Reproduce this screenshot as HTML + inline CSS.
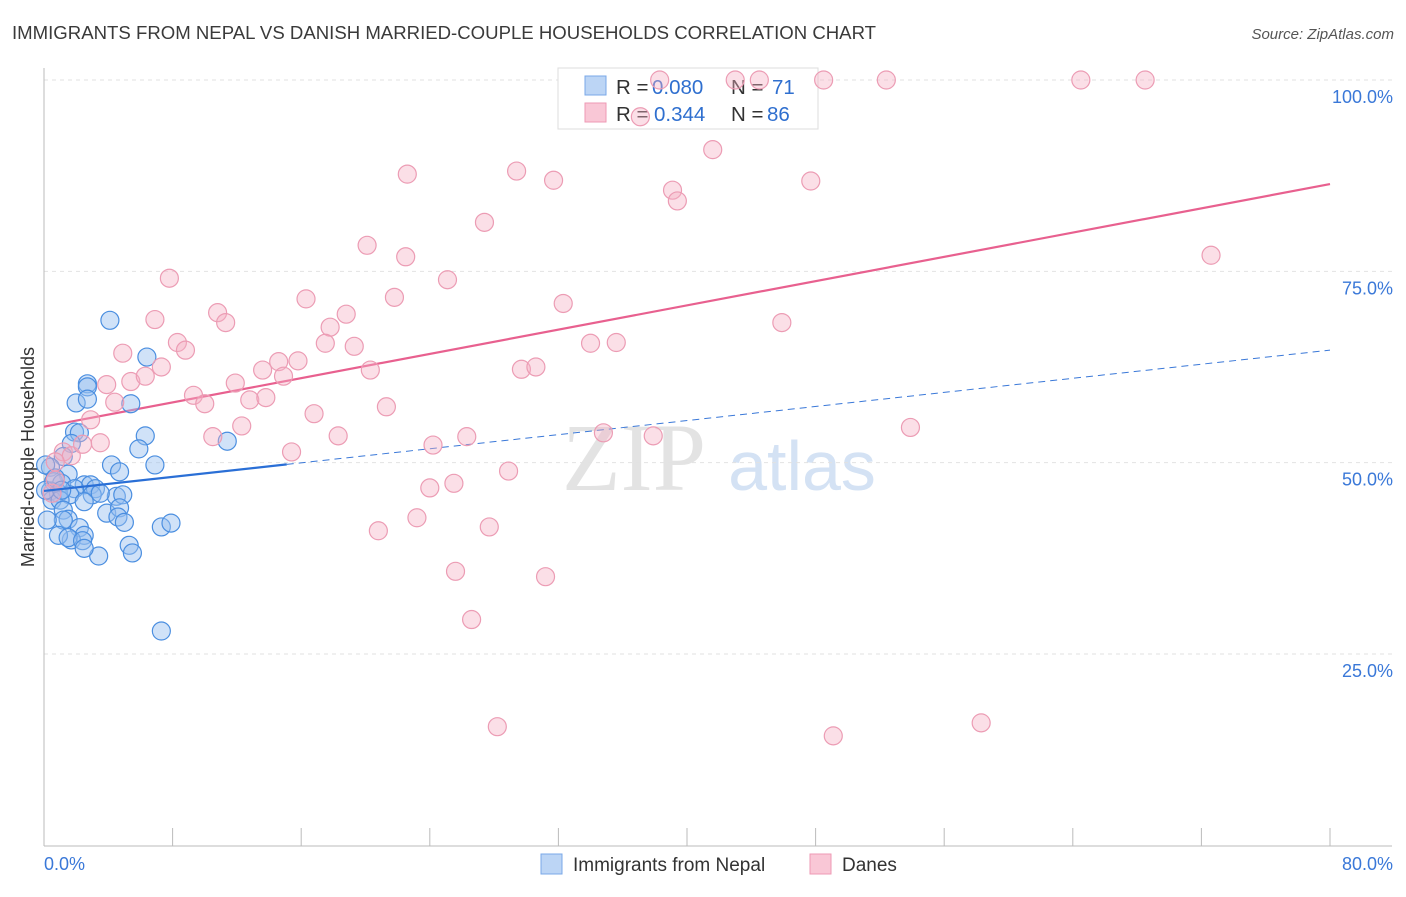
<!DOCTYPE html>
<html><head><meta charset="utf-8"><style>
body{margin:0;background:#fff;font-family:"Liberation Sans",sans-serif;}
</style></head><body>
<svg id="chart" width="1406" height="892" xmlns="http://www.w3.org/2000/svg" font-family="Liberation Sans, sans-serif">
<text x="12" y="39" font-size="18.6" fill="#3a3a3a">IMMIGRANTS FROM NEPAL VS DANISH MARRIED-COUPLE HOUSEHOLDS CORRELATION CHART</text>
<text x="1394" y="39" font-size="15" fill="#555" text-anchor="end" font-style="italic">Source: ZipAtlas.com</text>
<text transform="translate(34,457) rotate(-90)" font-size="18" fill="#333" text-anchor="middle">Married-couple Households</text>
<g>
<text x="634" y="490" font-size="96" font-family="Liberation Serif, serif" fill="#e3e3e3" text-anchor="middle">ZIP</text>
<text x="802" y="490" font-size="70" fill="#d4e2f4" text-anchor="middle">atlas</text>
</g>
<g id="grid"></g><g id="axes"></g><g id="trends"></g>
<g>
<rect x="558" y="68" width="260" height="61" fill="#fff" stroke="#ddd"/>
<rect x="585" y="76" width="21" height="19" fill="#bcd5f5" stroke="#7aa8e8"/>
<rect x="585" y="103" width="21" height="19" fill="#f9c7d6" stroke="#ee9ab4"/>
<g font-size="20.5" fill="#333">
<text x="616" y="94">R =</text><text x="652" y="94" fill="#2f6fcf">0.080</text><text x="731" y="94">N =</text><text x="772" y="94" fill="#2f6fcf">71</text>
</g>
<g font-size="20.5" fill="#333">
<text x="616" y="121">R =</text><text x="654" y="121" fill="#2f6fcf">0.344</text><text x="731" y="121">N =</text><text x="767" y="121" fill="#2f6fcf">86</text>
</g>
</g>
<g id="points"></g>
<g>
<rect x="541" y="854" width="21" height="20" fill="#bcd5f5" stroke="#7aa8e8"/>
<text x="573" y="871" font-size="19" fill="#333">Immigrants from Nepal</text>
<rect x="810" y="854" width="21" height="20" fill="#f9c7d6" stroke="#ee9ab4"/>
<text x="842" y="871" font-size="19" fill="#333">Danes</text>
</g>
</svg>
<script>
const yTicks=[25,50,75,100];
const yTickLabels=["25.0%","50.0%","75.0%","100.0%"];
const xTickCount=10;
const xEndLabels=["0.0%","80.0%"];
const nepalX=[4.1,6.4,2.7,2.7,2.0,5.4,2.7,1.9,6.3,5.9,11.4,2.2,1.7,1.2,6.9,4.2,4.7,0.4,1.5,0.6,1.1,2.5,2.9,1.9,3.2,0.4,0.9,1.6,3.0,4.5,4.9,2.5,0.5,1.0,1.2,3.9,4.7,4.6,5.0,1.5,1.2,0.2,2.2,2.5,1.7,0.9,1.5,2.4,5.3,5.5,3.4,2.5,7.3,7.9,7.3,0.1,0.1,3.5,0.7,1.1];
const nepalY=[68.6,63.8,60.3,59.9,57.8,57.7,58.3,54.0,53.5,51.8,52.8,53.9,52.5,50.8,49.7,49.7,48.8,49.4,48.5,47.5,47.3,47.1,47.1,46.6,46.6,46.3,46.0,45.8,45.8,45.6,45.8,44.9,45.1,45.1,43.8,43.4,44.1,42.9,42.2,42.6,42.5,42.5,41.5,40.5,39.9,40.5,40.2,39.8,39.2,38.2,37.8,38.8,41.6,42.1,28.0,49.7,46.4,46.0,48.0,46.4];
const danesX=[38.3,43.0,44.5,48.5,52.4,64.5,68.5,37.1,41.6,29.4,22.6,31.7,39.1,47.7,39.4,27.4,20.1,22.5,72.6,7.8,25.1,16.3,21.8,32.3,10.8,11.3,6.9,18.8,17.8,17.5,19.3,8.3,8.8,34.0,35.6,45.9,4.9,7.3,13.6,14.6,15.8,5.4,3.9,11.9,14.9,20.3,6.3,29.7,30.6,9.3,4.4,10.0,12.8,13.8,21.3,16.8,12.3,2.9,10.5,18.3,26.3,24.2,34.8,37.9,53.9,3.5,15.4,1.2,1.7,0.7,2.4,28.9,24.0,25.5,23.2,20.8,27.7,25.6,31.2,26.6,28.2,49.1,58.3,0.5,0.7];
const danesY=[100,100,100,100,100,100,100,95.2,90.9,88.1,87.7,86.9,85.6,86.8,84.2,81.4,78.4,76.9,77.1,74.1,73.9,71.4,71.6,70.8,69.6,68.3,68.7,69.4,67.7,65.6,65.2,65.7,64.7,65.6,65.7,68.3,64.3,62.5,62.1,63.2,63.3,60.6,60.2,60.4,61.3,62.1,61.3,62.2,62.5,58.8,57.9,57.7,58.2,58.5,57.3,56.4,54.8,55.6,53.4,53.5,53.4,52.3,53.9,53.5,54.6,52.6,51.4,51.4,50.9,50.1,52.4,48.9,46.7,47.3,42.8,41.1,41.6,35.8,35.1,29.5,15.5,14.3,16.0,46.0,47.7];
const danesTrend=[54.7,86.4];
const nepalTrend=[46.3,64.7];
const nepalSolidEnd=15.1;

const NS="http://www.w3.org/2000/svg";
const X0=44,X1=1330,Y0=845.3,Y100=80;
const sx=v=>X0+(v/80)*(X1-X0);
const sy=v=>Y0-(v/100)*(Y0-Y100);
function mk(tag,attrs,parent){const e=document.createElementNS(NS,tag);for(const k in attrs)e.setAttribute(k,attrs[k]);document.getElementById(parent).appendChild(e);return e;}
yTicks.forEach((t,i)=>{
 const g=mk('line',{x1:X0,x2:1392,y1:sy(t),y2:sy(t),stroke:'#e2e2e2','stroke-dasharray':'4,4'},'grid');
 
 
 const l=mk('text',{x:1393,y:sy(t)+23,'font-size':18,fill:'#3a78d8','text-anchor':'end'},'grid');
 l.textContent=yTickLabels[i];
 
 
});
const ya=mk('line',{x1:X0,x2:X0,y1:68,y2:846,stroke:'#bbb'},'axes');


const xa=mk('line',{x1:X0,x2:1392,y1:846,y2:846,stroke:'#bbb'},'axes');


for(let i=1;i<=xTickCount;i++){
 const v=80*i/xTickCount;
 const t=mk('line',{x1:sx(v),x2:sx(v),y1:828,y2:846,stroke:'#bbb'},'axes');
 
 
}
const xl0=mk('text',{x:44,y:870,'font-size':18,fill:'#3a78d8'},'axes');xl0.textContent=xEndLabels[0];


const xl1=mk('text',{x:1393,y:870,'font-size':18,fill:'#3a78d8','text-anchor':'end'},'axes');xl1.textContent=xEndLabels[1];


function ty(tr,x){return tr[0]+(tr[1]-tr[0])*x/80;}
const pl=mk('line',{x1:sx(0),y1:sy(danesTrend[0]),x2:sx(80),y2:sy(danesTrend[1]),stroke:'#e8608f','stroke-width':2.2},'trends');


const bd=mk('line',{x1:sx(nepalSolidEnd),y1:sy(ty(nepalTrend,nepalSolidEnd)),x2:sx(80),y2:sy(nepalTrend[1]),stroke:'#3a78d8','stroke-width':1,'stroke-dasharray':'7,5'},'trends');


nepalX.forEach((x,i)=>{
 const c=mk('circle',{cx:sx(x),cy:sy(nepalY[i]),r:9,fill:'rgba(150,190,240,0.45)',stroke:'#4a8ee0','stroke-width':1.2},'points');
 
 
});
danesX.forEach((x,i)=>{
 const c=mk('circle',{cx:sx(x),cy:sy(danesY[i]),r:9,fill:'rgba(245,175,195,0.4)',stroke:'#ec9cb4','stroke-width':1.2},'points');
 
 
});
const bs=mk('line',{x1:sx(0),y1:sy(nepalTrend[0]),x2:sx(nepalSolidEnd),y2:sy(ty(nepalTrend,nepalSolidEnd)),stroke:'#2a6fd6','stroke-width':2.2},'points');


</script>
</body></html>
